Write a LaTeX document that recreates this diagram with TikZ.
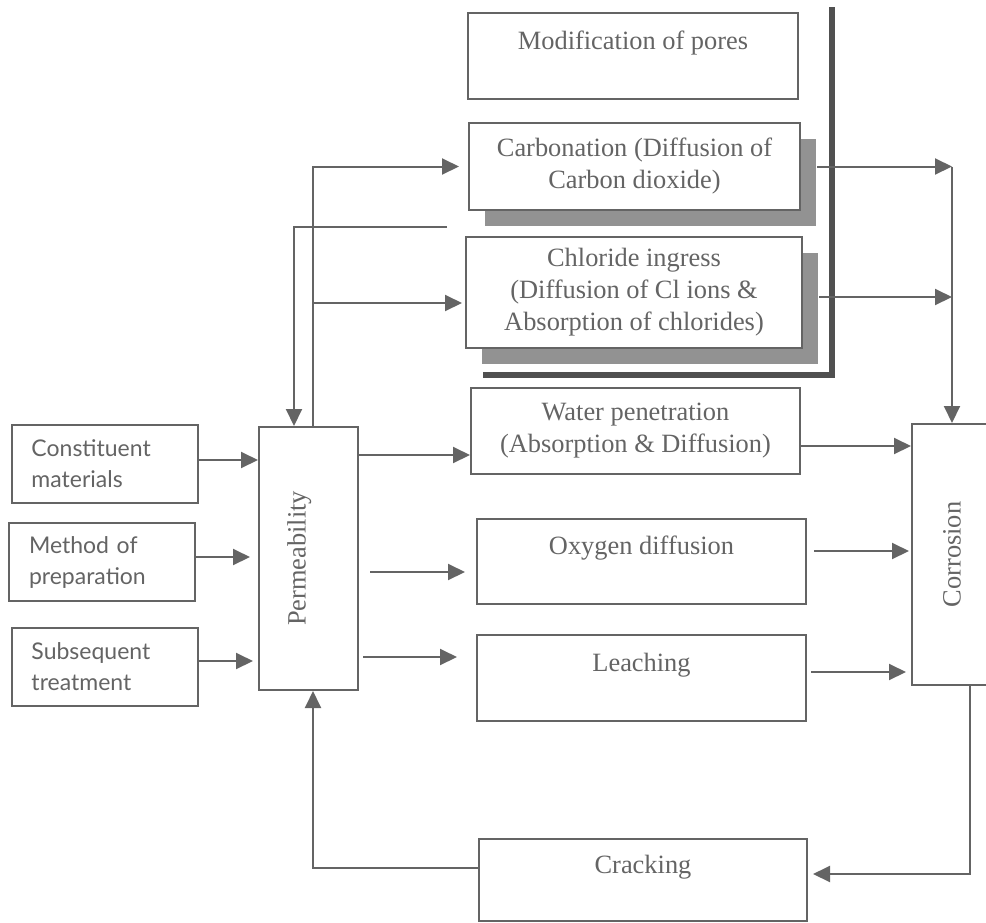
\documentclass[tikz,border=0pt]{standalone}
\usepackage{fontspec}
\setmainfont{Liberation Serif}
\newfontfamily\sidefont{Lato}
\usepackage{tikz}
\usetikzlibrary{arrows.meta,positioning,calc,shadows}
\definecolor{scan}{RGB}{100,100,100}

\begin{document}
\begin{tikzpicture}[x=0.5pt,y=-0.5pt,line width=1pt,color=scan,
  box/.style={draw,rectangle,inner sep=0pt,align=center,font=\fontsize{13.2}{16}\selectfont},
  sidebox/.style={draw,rectangle,inner xsep=10pt,inner ysep=0pt,text width=73pt,minimum height=39pt,align=left,font=\sidefont\fontsize{11.5}{15.5}\selectfont},
  shadowed/.style={fill=white,drop shadow={shadow xshift=8pt,shadow yshift=-8pt,fill=scan!70,opacity=1}},
  flow/.style={-{Triangle[length=8.5pt,width=8pt]}}]

\useasboundingbox (0,0) rectangle (986,922);

% wall round the pore boxes
\draw[line width=3pt,color=scan!80!black] (832,7) |- (483,375);

\node[box,minimum width=165pt,minimum height=43pt] (pores) at (633,56) {Modification of pores\\\mbox{}};
\node[box,shadowed,minimum width=165.5pt,minimum height=43.5pt] (carbon) at (634.5,166.5) {Carbonation (Diffusion of\\Carbon dioxide)};
\node[box,shadowed,minimum width=168pt,minimum height=55.5pt] (chloride) at (634,292.5) {\raisebox{-6pt}{}Chloride ingress\\(Diffusion of Cl ions \&\\Absorption of chlorides)};
\node[box,minimum width=164.5pt,minimum height=43pt] (water) at (635.5,431) {Water penetration\\(Absorption \& Diffusion)};
\node[box,minimum width=164.5pt,minimum height=42.5pt] (oxygen) at (641.5,561.5) {Oxygen diffusion\\\mbox{}};
\node[box,minimum width=164.5pt,minimum height=43pt] (leaching) at (641.5,678) {Leaching\\\mbox{}};
\node[box,minimum width=164pt,minimum height=41pt] (cracking) at (643,880) {Cracking\\\mbox{}};

\node[sidebox] (constituent) at (104.5,463.5) {Constituent\\materials};
\node[sidebox] (method) at (102,562) {Method of\\preparation};
\node[sidebox] (subsequent) at (104.5,666.5) {Subsequent\\treatment};

% rotated: east = top, west = bottom, north = left, south = right
\node[box,rotate=90,minimum width=131.5pt,minimum height=49.5pt] (perm) at (308.5,558.5) {\raisebox{12pt}{Permeability}};
\node[box,rotate=90,minimum width=130.5pt,minimum height=40pt] (corrosion) at (952,554.5) {Corrosion};

\draw[flow] (constituent.east |- 0,460) -- (perm.north |- 0,460);
\draw[flow,shorten >=4pt] (method.east |- 0,557) -- (perm.north |- 0,557);
\draw[flow,shorten >=2.5pt] (subsequent.east |- 0,661) -- (perm.north |- 0,661);

\draw[flow] (perm.south |- 0,455) -- (water.west |- 0,455);
\draw[flow,shorten <=5.5pt,shorten >=5.5pt] (perm.south |- 0,572) -- (oxygen.west |- 0,572);
\draw[flow,shorten <=2pt,shorten >=9.5pt] (perm.south |- 0,657) -- (leaching.west |- 0,657);

\coordinate (split) at (313,303);
\draw[flow,shorten >=4.5pt] (perm.east -| split) |- (carbon.west);
\draw[flow,shorten >=1.5pt] (split) -- (chloride.west |- split);

\coordinate (poresfeed) at (447,227);
\coordinate (poresbend) at (294,227);
\draw[flow] (poresfeed) -- (poresbend) -- (perm.east -| poresbend);

\draw[flow,shorten <=8pt] (carbon.east) -- (carbon.east -| corrosion.east);
\draw[flow] (carbon.east -| corrosion.east) -- (corrosion.east);
\draw[flow,shorten <=8pt] (chloride.east |- 0,297) -- (corrosion.east |- 0,297);

\draw[flow] (water.east |- 0,446) -- (corrosion.north |- 0,446);
\draw[flow,shorten <=3.5pt,shorten >=1pt] (oxygen.east |- 0,551) -- (corrosion.north |- 0,551);
\draw[flow,shorten <=2pt,shorten >=2.5pt] (leaching.east |- 0,672) -- (corrosion.north |- 0,672);

\draw[flow,shorten >=2.5pt] (corrosion.west -| 970,0) |- (cracking.east |- 0,874);
\draw[flow] (cracking.west |- 0,868) -| (perm.west -| split);
\end{tikzpicture}
\end{document}
